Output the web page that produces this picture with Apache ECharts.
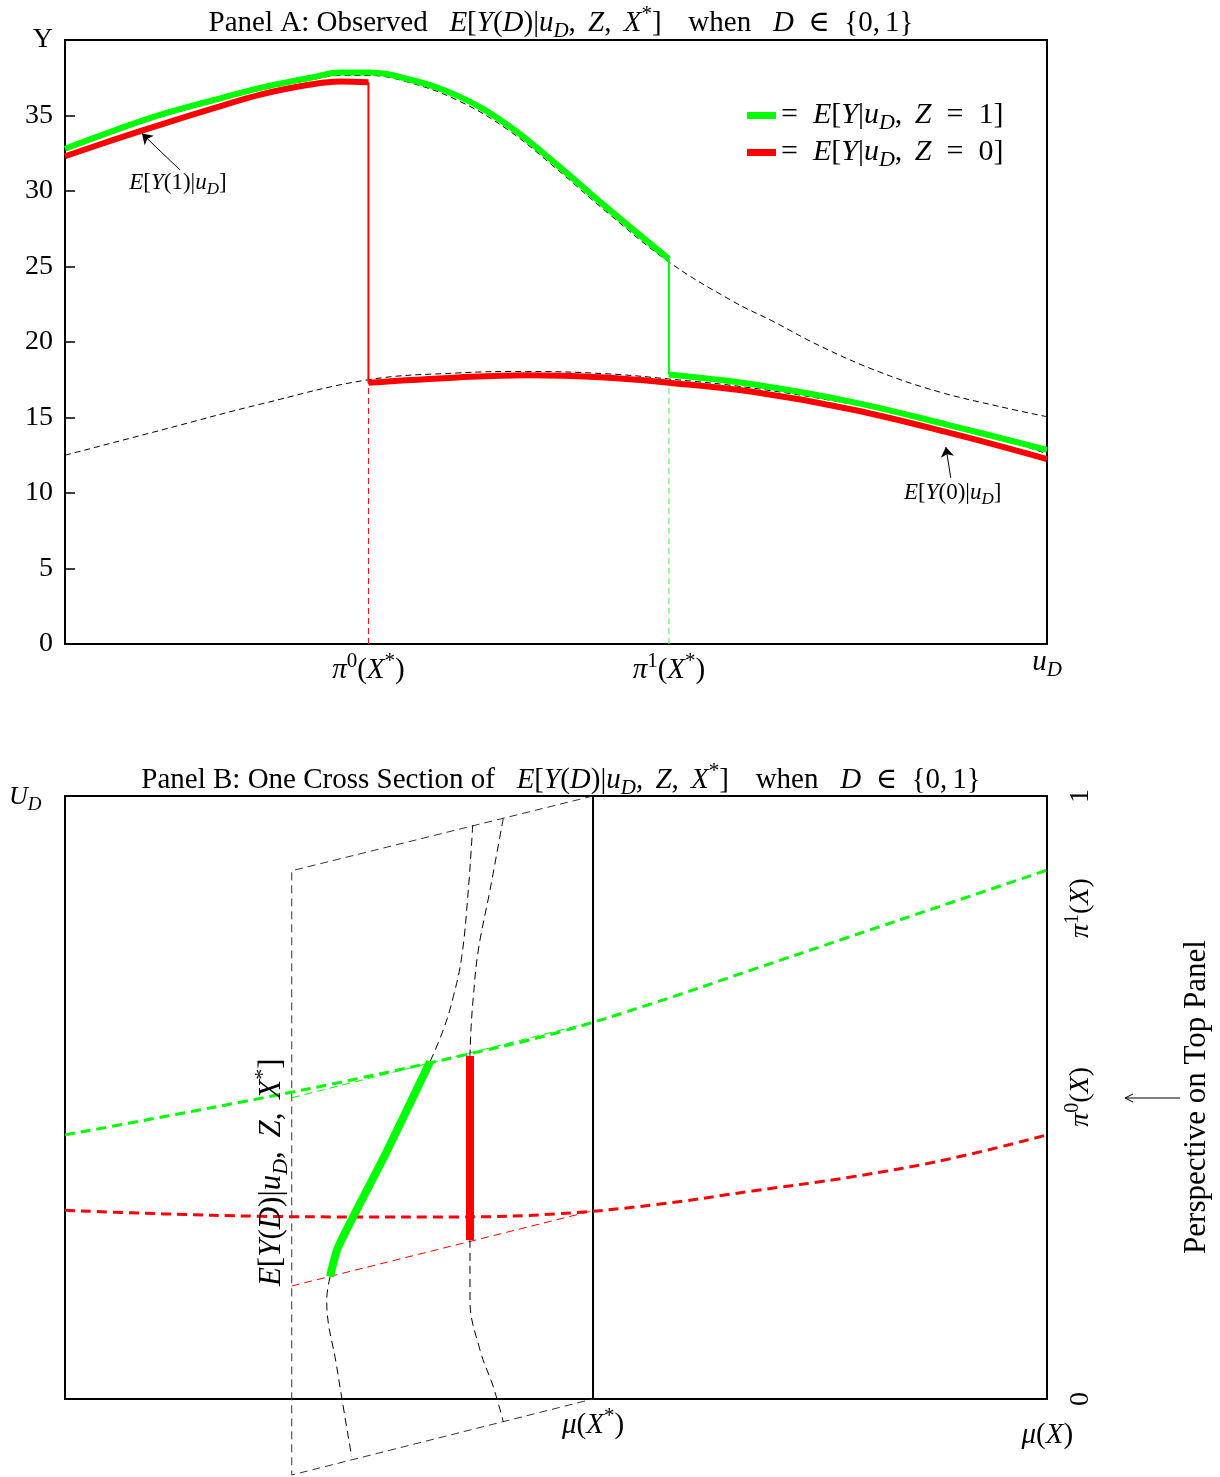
<!DOCTYPE html>
<html>
<head>
<meta charset="utf-8">
<script src="https://cdn.jsdelivr.net/npm/echarts@6/dist/echarts.min.js"></script>
<style>
html, body { margin: 0; padding: 0; background: #fff; }
#main { width: 1220px; height: 1477px; }
</style>
</head>
<body>
<div id="main"></div>
<script>
const chart = echarts.init(document.getElementById('main'));
const FONT = '"Liberation Serif", "DejaVu Serif", serif';

// ---- Panel A: E[Y|u_D, Z] along u_D ----
const pi0 = 0.309;   // pi^0(X*)
const pi1 = 0.615;   // pi^1(X*)
const uAll = [0, 0.05, 0.1, 0.15, 0.2, 0.25, 0.28, 0.309, 0.35, 0.4, 0.45, 0.5, 0.55, 0.615, 0.68, 0.72, 0.77, 0.83, 0.89, 0.95, 1];
const eY1 = [32.7, 33.9, 34.95, 35.85, 36.7, 37.35, 37.65, 37.65, 37.2, 36.0, 34.1, 31.5, 28.7, 25.3, 22.7, 21.4, 19.7, 18.0, 16.7, 15.75, 15.05];
const uY0 = [0, 0.1, 0.2, 0.309, 0.4, 0.47, 0.55, 0.615, 0.7, 0.8, 0.9, 1];
const eY0 = [12.5, 14.2, 15.9, 17.5, 17.95, 18.05, 17.9, 17.55, 16.95, 15.9, 14.6, 12.6];
const uZ1a = [0, 0.05, 0.1, 0.15, 0.2, 0.25, 0.28, 0.309, 0.35, 0.4, 0.45, 0.5, 0.55, 0.615];
const z1a = [32.8, 34.0, 35.1, 36.0, 36.85, 37.5, 37.85, 37.85, 37.4, 36.3, 34.4, 31.8, 29.0, 25.5];
const uZ1b = [0.615, 0.7, 0.8, 0.9, 1];
const z1b = [17.85, 17.2, 16.05, 14.5, 12.85];
const uZ0a = [0, 0.05, 0.1, 0.15, 0.2, 0.25, 0.28, 0.309];
const z0a = [32.3, 33.4, 34.45, 35.45, 36.4, 37.05, 37.25, 37.2];
const uZ0b = [0.309, 0.4, 0.47, 0.55, 0.615, 0.7, 0.8, 0.9, 1];
const z0b = [17.3, 17.65, 17.8, 17.65, 17.3, 16.7, 15.55, 14.0, 12.25];
const yTicks = [0, 5, 10, 15, 20, 25, 30, 35, 40];

// annotation arrows (tail -> tip) and their labels
const arrowFrom = [[0.117, 31.4], [0.902, 11.0]];
const arrowTo = [[0.0784, 33.8], [0.897, 13.05]];
const noteU = [0.115, 0.904];
const noteY = [30.5, 10.0];
const noteText = ['{i|E}{r|[}{i|Y}{r|(1)|}{i|u}{b|D}{r|]}', '{i|E}{r|[}{i|Y}{r|(0)|}{i|u}{b|D}{r|]}'];

// ---- Panel B: one cross section, mu(X) vs U_D ----
const muStar = 0.5377;
const muGrid = [0, 0.1, 0.2, 0.3, 0.4, 0.5, 0.6, 0.7, 0.8, 0.9, 1];
const pi1X = [0.438, 0.468, 0.499, 0.532, 0.568, 0.607, 0.657, 0.712, 0.767, 0.822, 0.877];
const pi0X = [0.313, 0.307, 0.303, 0.302, 0.302, 0.307, 0.322, 0.345, 0.368, 0.398, 0.438];
const piLabU = [0.501, 0.814];   // where the pi labels sit on the right axis

// perspective frame of the top panel
const boxMu = [muStar, 0.2309, 0.2309, muStar];
const boxU = [1, 0.876, -0.126, 0];
const thinG = [[0.2309, 0.4996], [muStar, 0.6253]];
const thinR = [[0.2309, 0.1874], [muStar, 0.3123]];
// curve ending in the green segment
const muA1 = [0.4152, 0.4107, 0.404, 0.3954, 0.3852, 0.3717];
const uA1 = [0.952, 0.844, 0.7335, 0.667, 0.612, 0.5594];
const muGs = [0.3717, 0.3269, 0.2783, 0.2699];
const uGs = [0.5594, 0.408, 0.2526, 0.2028];
const muA2 = [0.2699, 0.2665, 0.2767, 0.2919];
const uA2 = [0.2028, 0.164, 0.0536, -0.0957];
// curve ending in the red segment
const muB1 = [0.4463, 0.4328, 0.4209, 0.4158, 0.4134, 0.4124];
const uB1 = [0.963, 0.8441, 0.7446, 0.6672, 0.612, 0.5688];
const muRs = [0.4124, 0.4124];
const uRs = [0.5688, 0.2637];
const muB2 = [0.4124, 0.4124, 0.4226, 0.4361, 0.4463];
const uB2 = [0.2637, 0.1642, 0.0813, 0.0204, -0.0376];
const labelEY = [0.211, 0.376];

const mathRich = (fs, lh) => {
    const L = lh || Math.round(fs * 1.3);
    const s = Math.round(fs * 0.72);
    return {
        r: { fontFamily: FONT, fontSize: fs, fontWeight: 'normal', lineHeight: L, color: '#000' },
        i: { fontFamily: FONT, fontSize: fs, fontWeight: 'normal', fontStyle: 'italic', lineHeight: L, color: '#000' },
        b: { fontFamily: FONT, fontSize: s, fontWeight: 'normal', fontStyle: 'italic', lineHeight: s, verticalAlign: 'bottom', color: '#000' },
        p: { fontFamily: FONT, fontSize: s, fontWeight: 'normal', lineHeight: s, verticalAlign: 'top', color: '#000' },
        t: { fontSize: 2, width: Math.round(fs * 0.18), lineHeight: L },
        g: { fontSize: 2, lineHeight: L + 20 }
    };
};
const txt = (fs, lh) => ({
    fontFamily: FONT, fontSize: fs, fontWeight: 'normal', color: '#000',
    lineHeight: lh || Math.round(fs * 1.3), rich: mathRich(fs, lh)
});

const condPart = '{i|E}{r|[}{i|Y}{r|(}{i|D}{r|)|}{i|u}{b|D}{r|,}{t| }{r| }{i|Z}{r|,}{t| }{r| }{i|X}{p|*}{r|]}{t| }{r|   when   }{i|D}{r|  ∈  }{0,{t| }1}';
const titleA = '{r|Panel A: Observed   }' + condPart;
const titleB = '{r|Panel B: One Cross Section of   }' + condPart;
const legendText = {
    z1: '{r|=  }{i|E}{r|[}{i|Y}{r||}{i|u}{b|D}{r|,}{t| }{r| }{i|Z}{r|  =  1]}',
    z0: '{r|=  }{i|E}{r|[}{i|Y}{r||}{i|u}{b|D}{r|,}{t| }{r| }{i|Z}{r|  =  0]}'
};

const near = (a, b) => Math.abs(a - b) < 1e-6;
const pairs = (xs, ys) => xs.map((x, i) => [x, ys[i]]);

function line(name, data, color, width, dash, grid, z, smooth) {
    return {
        type: 'line', name: name, data: data,
        xAxisIndex: grid, yAxisIndex: grid,
        showSymbol: false, symbol: 'none', clip: false, silent: true,
        smooth: smooth === undefined ? 0.4 : smooth, z: z,
        itemStyle: { color: color },
        lineStyle: { color: color, width: width, type: dash || 'solid', cap: 'butt' },
        animation: false
    };
}

const BLACK_DASH = [6, 4];

const series = [
    // Panel A
    Object.assign(line('eY1', pairs(uAll, eY1), '#000', 1, BLACK_DASH, 0, 2), {
        markLine: {
            silent: true, animation: false,
            symbol: ['none', 'arrow'], symbolSize: 10,
            lineStyle: { color: '#000', width: 1, type: 'solid' },
            label: { show: false },
            data: arrowFrom.map((f, i) => [{ coord: f }, { coord: arrowTo[i] }])
        }
    }),
    line('eY0', pairs(uY0, eY0), '#000', 1, BLACK_DASH, 0, 2),
    line('vr', [[pi0, 0], [pi0, z0b[0]]], '#ff0000', 1, BLACK_DASH, 0, 2, false),
    line('vg', [[pi1, 0], [pi1, eY0[7]]], '#44ee44', 1, BLACK_DASH, 0, 2, false),
    line('z0', pairs(uZ0a, z0a), '#ff0000', 6, null, 0, 3),
    line('z0', [[pi0, z0a[z0a.length - 1]], [pi0, z0b[0]]], '#ff0000', 2, null, 0, 3, false),
    line('z0', pairs(uZ0b, z0b), '#ff0000', 6, null, 0, 3),
    line('z1', pairs(uZ1a, z1a), '#00ff00', 6, null, 0, 4),
    line('z1', [[pi1, z1a[z1a.length - 1]], [pi1, z1b[0]]], '#00ff00', 2, null, 0, 4, false),
    line('z1', pairs(uZ1b, z1b), '#00ff00', 6, null, 0, 4),
    {
        type: 'scatter', xAxisIndex: 0, yAxisIndex: 0, symbolSize: 0, silent: true, z: 5,
        itemStyle: { opacity: 1 },
        data: noteU.map((u, i) => ({ value: [u, noteY[i]], label: { formatter: noteText[i] } })),
        label: Object.assign({ show: true, position: 'inside' }, txt(23)),
        animation: false
    },

    // Panel B
    line('box', pairs(boxMu, boxU), '#333', 1, [8, 5], 1, 2, false),
    line('star', [[muStar, 0], [muStar, 1]], '#000', 2, null, 1, 3, false),
    line('thinG', thinG, '#00ff00', 1, [8, 5], 1, 2, false),
    line('thinR', thinR, '#ff0000', 1, [8, 5], 1, 2, false),
    line('pi1', pairs(muGrid, pi1X), '#00ff00', 3, [10, 6], 1, 4),
    line('pi0', pairs(muGrid, pi0X), '#ff0000', 3, [10, 6], 1, 4),
    line('cA1', pairs(muA1, uA1), '#000', 1, [8, 5], 1, 2),
    line('cA2', pairs(muA2, uA2), '#000', 1, [8, 5], 1, 2),
    line('cB1', pairs(muB1, uB1), '#000', 1, [8, 5], 1, 2),
    line('cB2', pairs(muB2, uB2), '#000', 1, [8, 5], 1, 2),
    line('gSeg', pairs(muGs, uGs), '#00ff00', 8, null, 1, 5, 0.2),
    line('rSeg', pairs(muRs, uRs), '#ff0000', 8, null, 1, 5, false),
    {
        type: 'scatter', xAxisIndex: 1, yAxisIndex: 1, symbolSize: 0, silent: true, z: 5,
        itemStyle: { opacity: 1 },
        data: [labelEY],
        label: Object.assign({
            show: true, position: 'inside', rotate: 90,
            formatter: '{i|E}{r|[}{i|Y}{r|(}{i|D}{r|)|}{i|u}{b|D}{r|,}{t| }{r| }{i|Z}{r|,}{t| }{r| }{i|X}{p|*}{r|]}'
        }, txt(31)),
        animation: false
    }
];

const option = {
    backgroundColor: '#fff',
    animation: false,
    title: [
        { text: titleA, left: 556, top: -1, textAlign: 'center', textStyle: txt(29) },
        { text: titleB, left: 556, top: 756, textAlign: 'center', textStyle: txt(29) }
    ],
    legend: {
        data: ['z1', 'z0'], orient: 'vertical', left: 742, top: 92,
        icon: 'rect', itemWidth: 29, itemHeight: 7, itemGap: 0, selectedMode: false,
        formatter: n => legendText[n],
        textStyle: txt(30, 37)
    },
    grid: [
        { left: 65, top: 40, width: 982, height: 604, show: true, borderColor: '#000', borderWidth: 2, backgroundColor: 'transparent' },
        { left: 65, top: 796, width: 982, height: 603, show: true, borderColor: '#000', borderWidth: 2, backgroundColor: 'transparent' }
    ],
    xAxis: [
        {
            type: 'value', gridIndex: 0, min: 0, max: 1,
            name: '{i|u}{b|D}', nameLocation: 'end', nameGap: 0,
            nameTextStyle: Object.assign({ align: 'center', verticalAlign: 'top', padding: [-1, 0, 0, 0] }, txt(29)),
            splitLine: { show: false }, axisTick: { show: false },
            axisLine: { lineStyle: { color: '#000', width: 2 } },
            axisLabel: {
                customValues: [pi0, pi1], margin: 7,
                formatter: v => '{i|π}{p|' + (near(v, pi0) ? '0' : '1') + '}{r|(}{i|X}{p|*}{r|)}',
                ...txt(29)
            }
        },
        {
            type: 'value', gridIndex: 1, min: 0, max: 1,
            splitLine: { show: false }, axisTick: { show: false },
            axisLine: { lineStyle: { color: '#000', width: 2 } },
            axisLabel: {
                customValues: [muStar, 1], margin: 7,
                formatter: v => near(v, 1) ? '{g| }{i|μ}{r|(}{i|X}{r|)}' : '{i|μ}{r|(}{i|X}{p|*}{r|)}',
                ...txt(29)
            }
        }
    ],
    yAxis: [
        {
            type: 'value', gridIndex: 0, min: 0, max: 40, interval: 5,
            splitLine: { show: false },
            axisLine: { lineStyle: { color: '#000', width: 2 } },
            axisTick: { inside: true, length: 10, lineStyle: { color: '#000', width: 1.5 } },
            axisLabel: {
                customValues: yTicks, margin: 12,
                formatter: v => v === 40 ? 'Y' : String(v),
                ...txt(28)
            }
        },
        {
            type: 'value', gridIndex: 1, min: 0, max: 1, position: 'right',
            splitLine: { show: false }, axisTick: { show: false },
            axisLine: { lineStyle: { color: '#000', width: 2 } },
            axisLabel: {
                customValues: [0, piLabU[0], piLabU[1], 1], rotate: 90, margin: 16,
                formatter: v => {
                    if (near(v, piLabU[0])) return '{i|π}{p|0}{r|(}{i|X}{r|)}';
                    if (near(v, piLabU[1])) return '{i|π}{p|1}{r|(}{i|X}{r|)}';
                    return '{r|' + v + '}';
                },
                ...txt(28)
            }
        }
    ],
    graphic: [
        { type: 'text', x: 9, y: 780, style: { text: '{i|U}{b|D}', rich: mathRich(26), font: '26px ' + FONT } },
        {
            type: 'text', x: 1197, y: 1097, rotation: Math.PI / 2,
            style: { text: 'Perspective on Top Panel', font: '31px ' + FONT, fill: '#000', align: 'center', verticalAlign: 'middle', textAlign: 'center', textVerticalAlign: 'middle' }
        },
        { type: 'line', shape: { x1: 1180, y1: 1098, x2: 1125, y2: 1098 }, style: { stroke: '#000', lineWidth: 1 } },
        { type: 'polyline', shape: { points: [[1133, 1094], [1125, 1098], [1133, 1102]] }, style: { stroke: '#000', fill: null, lineWidth: 1 } }
    ],
    series: series
};

chart.setOption(option);
</script>
</body>
</html>
